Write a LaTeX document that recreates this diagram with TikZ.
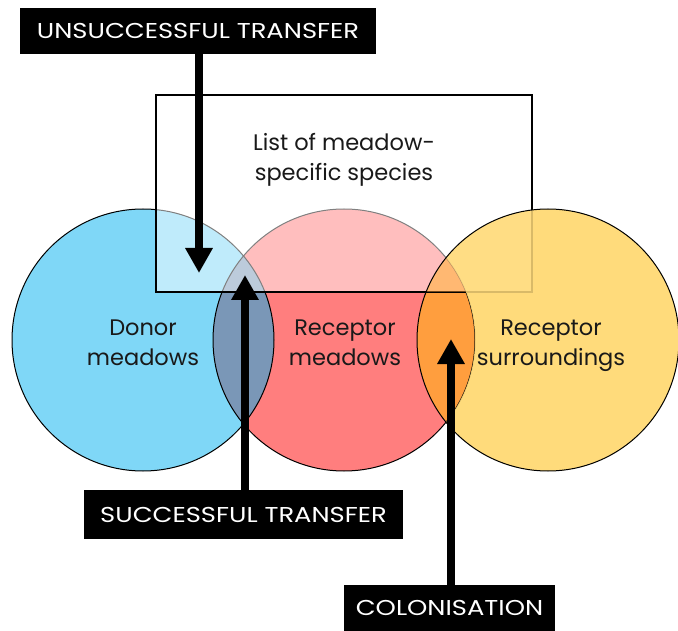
\documentclass[tikz,border=0pt]{standalone}
\usepackage{fontspec}
\setmainfont{Poppins}
\newfontfamily\tagfont[FakeStretch=1.2]{Poppins}
\usetikzlibrary{arrows.meta}
\definecolor{donorblue}{HTML}{7FD7F7}
\definecolor{recred}{HTML}{FF7E7E}
\definecolor{suryellow}{HTML}{FFDB7B}
\definecolor{slateov}{HTML}{7A97B7}
\definecolor{orangeov}{HTML}{FF9E3E}
\begin{document}
\begin{tikzpicture}[x=1pt,y=-1pt,
  tag/.style={fill=black,text=white,font=\tagfont\fontsize{21.5}{24}\selectfont,inner sep=0pt},
  circlabel/.style={font=\fontsize{22.5}{30}\selectfont,align=center,text=black!90},
  bigarrow/.style={line width=8.5pt,-{Triangle[width=26pt,length=25pt]}},
  outline/.style={draw=black,line width=1pt}]
\useasboundingbox (0,0) rectangle (678,631);
\def\donorpath{(143,340) circle[radius=131]}
\def\redpath{(344,340) circle[radius=131]}
\def\yellowpath{(548,340) circle[radius=131]}
\def\rectpath{(156,95) rectangle (532,292)}
% base fills
\fill[donorblue] \donorpath;
\fill[recred] \redpath;
\fill[suryellow] \yellowpath;
\begin{scope}\clip \donorpath; \fill[slateov] \redpath; \end{scope}
\begin{scope}\clip \redpath; \fill[orangeov] \yellowpath; \end{scope}
\draw[outline] \donorpath;
\draw[outline] \redpath;
% list rectangle
\fill[white,fill opacity=0.5] \rectpath;
\draw[black,line width=1.3pt] \rectpath;
% yellow circle on top
\begin{scope}\clip \yellowpath;
  \fill[suryellow,fill opacity=0.85,even odd rule] \yellowpath \redpath;
\end{scope}
\begin{scope}\clip \rectpath; \clip \redpath; \clip \yellowpath;
  \fill[orangeov,fill opacity=0.45] \rectpath;
\end{scope}
\draw[outline] \yellowpath;
% texts
\node[circlabel] (list) at (344,160) {List of meadow-\\specific species};
\node[circlabel] (donor) at (143,343) {Donor\\meadows};
\node[circlabel] (recm) at (345,343) {Receptor\\meadows};
\node[circlabel] (recs) at (551,346) {Receptor\\surroundings};
% tags
\node[tag,minimum width=356pt,minimum height=46pt] (unsucc) at (198,31) {UNSUCCESSFUL TRANSFER};
\node[tag,minimum width=319pt,minimum height=49pt] (succ) at (243.5,514.5) {SUCCESSFUL TRANSFER};
\node[tag,minimum width=211pt,minimum height=46pt] (colon) at (449.5,608) {COLONISATION};
% arrows
\coordinate (tipU) at (199,273);
\coordinate (tipS) at (245,275);
\coordinate (tipC) at (451,339);
\draw[bigarrow] (unsucc.south -| tipU) -- (tipU);
\draw[bigarrow] (succ.north -| tipS) -- (tipS);
\draw[bigarrow] (colon.north -| tipC) -- (tipC);
\end{tikzpicture}
\end{document}
